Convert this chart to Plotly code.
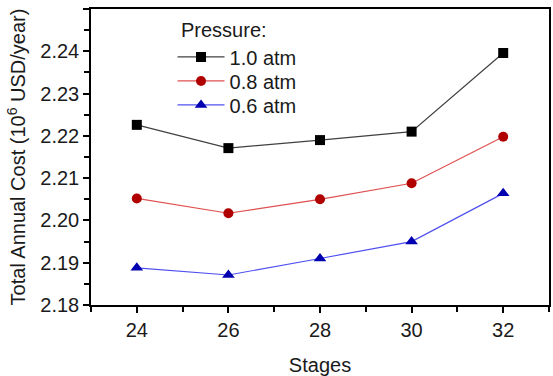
import plotly.graph_objects as go

stages = [24, 26, 28, 30, 32]
p10 = [2.2226, 2.2171, 2.2190, 2.2210, 2.2396]
p08 = [2.2052, 2.2017, 2.2050, 2.2088, 2.2198]
p06 = [2.1888, 2.1871, 2.1910, 2.1950, 2.2064]
names = ["1.0 atm", "0.8 atm", "0.6 atm"]
legend_title = "Pressure:"

font = "Liberation Sans, Arial, sans-serif"
txtc = "#1a1a1a"
fig = go.Figure()
styles = [
    (p10, "#000000", "#404040", "square", "legend"),
    (p08, "#b00000", "#e05050", "circle", "legend2"),
    (p06, "#0000b0", "#5050f0", "triangle-up", "legend3"),
]
for (vals, mc, lc, sym, lg), nm in zip(styles, names):
    fig.add_trace(go.Scatter(
        x=stages, y=vals, name=nm, mode="lines+markers", legend=lg,
        line=dict(color=lc, width=1.2),
        marker=dict(symbol=sym, size=10 if sym != "triangle-up" else 11, color=mc),
    ))

axis_common = dict(
    showline=True, linecolor="#000", linewidth=1.5, mirror=True,
    ticks="outside", ticklen=6, tickwidth=1.5, tickcolor="#000",
    showgrid=False, zeroline=False,
    tickfont=dict(family=font, size=20, color=txtc),
)
fig.update_xaxes(range=[23, 33], tickvals=stages, ticktext=[str(s) for s in stages],
                 minor=dict(ticks="outside", ticklen=5, tickwidth=1.5, tickcolor="#000", dtick=1, tick0=23),
                 title=dict(text="Stages", font=dict(family=font, size=20, color=txtc), standoff=19),
                 **axis_common)
fig.update_yaxes(range=[2.18, 2.25], dtick=0.01, tickformat=".2f",
                 minor=dict(ticks="outside", ticklen=5, tickwidth=1.5, tickcolor="#000", dtick=0.005),
                 title=dict(text="Total Annual Cost (10<sup>6</sup> USD/year)",
                            font=dict(family=font, size=20, color=txtc), standoff=9),
                 **axis_common)

leg_common = dict(x=0.178, xanchor="left", yanchor="middle", bgcolor="rgba(0,0,0,0)",
                  font=dict(family=font, size=20, color=txtc), itemwidth=47)
fig.update_layout(
    width=553, height=376,
    margin=dict(l=91, r=2, t=9, b=71),
    paper_bgcolor="white", plot_bgcolor="white",
    showlegend=True,
    legend=dict(y=0.838, **leg_common),
    legend2=dict(y=0.757, **leg_common),
    legend3=dict(y=0.676, **leg_common),
    annotations=[dict(text=legend_title, xref="paper", yref="paper", x=0.193, y=0.929,
                      xanchor="left", yanchor="middle", showarrow=False,
                      font=dict(family=font, size=20, color=txtc))],
)
fig.write_html("out.html")
